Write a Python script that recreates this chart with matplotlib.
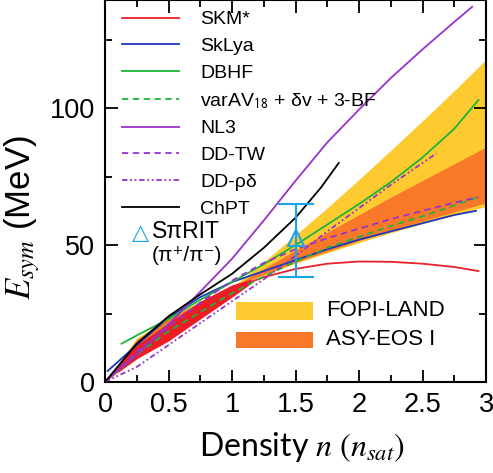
import numpy as np
import matplotlib
matplotlib.use('Agg')
import matplotlib.pyplot as plt
from matplotlib.ticker import MultipleLocator

plt.rcParams['font.family'] = ['Liberation Sans', 'DejaVu Sans']
plt.rcParams['mathtext.fontset'] = 'stix'

# model curves (density in n_sat, E_sym in MeV)
skm_x   = [0, 0.25, 0.5, 0.75, 1.0, 1.25, 1.5, 1.75, 2.0, 2.25, 2.5, 2.75, 2.94]
skm_y   = [0, 11.5, 21, 28.5, 34, 38.3, 41.3, 43.2, 44, 43.9, 43.2, 42, 40.5]
sklya_x = [0.02, 0.25, 0.5, 0.75, 1.0, 1.25, 1.5, 1.75, 2.0, 2.25, 2.5, 2.75, 2.92]
sklya_y = [4, 13.5, 23.5, 31, 36.5, 40.5, 44.5, 48.5, 52, 55, 58, 61, 62.5]
dbhf_x  = [0.13, 0.25, 0.5, 0.75, 1.0, 1.25, 1.5, 1.75, 2.0, 2.25, 2.5, 2.75, 2.94]
dbhf_y  = [14, 17, 23, 30, 36.5, 43, 50, 57.5, 65, 73, 82, 92.5, 103]
av18_x  = [0, 0.25, 0.5, 0.75, 1.0, 1.25, 1.5, 1.75, 2.0, 2.25, 2.5, 2.75, 2.94]
av18_y  = [0, 10, 18.5, 25.5, 32.5, 38.5, 44, 49, 53, 57, 60.5, 64.5, 67.5]
nl3_x   = [0, 0.25, 0.5, 0.75, 1.0, 1.25, 1.5, 1.75, 2.0, 2.25, 2.5, 2.75, 2.89]
nl3_y   = [0, 10, 21, 33, 45, 59, 73.5, 87.5, 99.5, 111, 121.5, 131.5, 137]
ddtw_x  = [0, 0.25, 0.5, 0.75, 1.0, 1.25, 1.5, 1.75, 2.0, 2.25, 2.5, 2.75, 2.94]
ddtw_y  = [0, 11, 20, 29, 37, 43.5, 48.5, 52.5, 56, 59.5, 62.5, 65.5, 67.5]
ddrd_x  = [0, 0.25, 0.5, 0.75, 1.0, 1.25, 1.5, 1.75, 2.0, 2.25, 2.5, 2.61]
ddrd_y  = [0, 5.5, 13.5, 21.5, 29.5, 37.5, 46, 55, 63.5, 72, 80, 83.5]
chpt_x  = [0, 0.25, 0.5, 0.75, 1.0, 1.25, 1.5, 1.7, 1.84]
chpt_y  = [0, 14, 24, 32, 39.5, 49, 60, 71, 80]

# constraint bands
band_x  = [0, 0.25, 0.5, 0.75, 1, 1.25, 1.5, 1.75, 2, 2.25, 2.5, 2.75, 3]
fopi_hi = [0, 8.6, 16.8, 25.4, 34.5, 43.9, 53.7, 63.6, 74.0, 84.6, 95.4, 106.4, 117.8]
fopi_lo = [0, 16.0, 23.4, 29.4, 34.5, 39.1, 43.3, 47.2, 50.9, 54.5, 57.8, 61.0, 64.1]
asy_hi  = [0, 11.2, 19.6, 27.2, 34.5, 41.4, 48.2, 54.7, 61.1, 67.5, 73.6, 79.7, 85.8]
asy_lo  = [0, 15.6, 23.1, 29.2, 34.5, 39.3, 43.7, 47.7, 51.6, 55.3, 58.8, 62.1, 65.4]
red_x   = [0.1, 0.25, 0.5, 0.75, 1.0, 1.15]
red_lo  = [3.5, 8.5, 15, 23, 31, 36]
red_hi  = [6.5, 13.5, 21.5, 29.5, 35.5, 37.5]

# S-pi-RIT point
spirit_x = [1.5]
spirit_y = [52.5]
spirit_lo = [14]
spirit_hi = [12.5]

xticks = [0, 0.5, 1, 1.5, 2, 2.5, 3]
xticklabels = ['0', '0.5', '1', '1.5', '2', '2.5', '3']
yticks = [0, 50, 100]

purple = '#9932CC'
cyan = '#1BA5E8'
yellow = '#FDCA30'
orange = '#F9782A'

fig = plt.figure(figsize=(4.93, 4.73), dpi=100)
ax = fig.add_axes([0.213, 0.1924, 0.773, 0.8076])

ax.fill_between(band_x, fopi_lo, fopi_hi, color=yellow, lw=0, zorder=1)
ax.fill_between(band_x, asy_lo, asy_hi, color=orange, lw=0, zorder=2)
ax.fill_between(red_x, red_lo, red_hi, color='#EE1C25', lw=0, zorder=2)

lw = 1.3
ax.plot(skm_x, skm_y, color='#E8202A', lw=lw, label='SKM*', zorder=3)
ax.plot(sklya_x, sklya_y, color='#1F36C0', lw=lw, label='SkLya', zorder=3)
ax.plot(dbhf_x, dbhf_y, color='#1DB539', lw=lw, label='DBHF', zorder=3)
ax.plot(av18_x, av18_y, color='#1DB539', lw=lw, ls=(0, (3.5, 2.5)),
        label=r'varAV$_{\mathsf{18}}$ + δv + 3-BF', zorder=3)
ax.plot(nl3_x, nl3_y, color=purple, lw=lw, label='NL3', zorder=3)
ax.plot(ddtw_x, ddtw_y, color=purple, lw=lw, ls=(0, (3.5, 2.5)), label='DD-TW', zorder=3)
ax.plot(ddrd_x, ddrd_y, color=purple, lw=lw, ls=(0, (3, 1.5, 1, 1.5, 1, 1.5)),
        label='DD-ρδ', zorder=3)
ax.plot(chpt_x, chpt_y, color='black', lw=lw, label='ChPT', zorder=3)

ax.errorbar(spirit_x, spirit_y, yerr=[spirit_lo, spirit_hi], fmt='^', ms=11,
            mfc='none', mec=cyan, mew=1.5, ecolor=cyan, elinewidth=1.5,
            capsize=13, capthick=1.5, zorder=4)

leg = ax.legend(loc='upper left', bbox_to_anchor=(0.045, 0.972), frameon=False,
                fontsize=14, handlelength=2.9, handletextpad=1.1,
                labelspacing=0.47, borderpad=0, borderaxespad=0)

ax.text(0.092, 0.39, '△', transform=ax.transAxes, color=cyan, fontsize=16,
        ha='center', va='center', family=['DejaVu Sans'])
ax.text(0.122, 0.395, 'SπRIT', transform=ax.transAxes, fontsize=16.5, va='center')
ax.text(0.122, 0.332, '(π⁺/π⁻)', transform=ax.transAxes, fontsize=15, va='center',
        family=['Liberation Sans', 'DejaVu Sans'])

ax.add_patch(plt.Rectangle((0.343, 0.162), 0.202, 0.047, transform=ax.transAxes,
                           color=yellow, lw=0, zorder=5))
ax.add_patch(plt.Rectangle((0.343, 0.089), 0.202, 0.043, transform=ax.transAxes,
                           color=orange, lw=0, zorder=5))
ax.text(0.581, 0.186, 'FOPI-LAND', transform=ax.transAxes, fontsize=16, va='center')
ax.text(0.581, 0.110, 'ASY-EOS I', transform=ax.transAxes, fontsize=16, va='center')

ax.set_xlim(0, 3)
ax.set_ylim(0, 139.5)
ax.set_xticks(xticks)
ax.set_xticklabels(xticklabels)
ax.set_yticks(yticks)
ax.xaxis.set_minor_locator(MultipleLocator(0.25))
ax.yaxis.set_minor_locator(MultipleLocator(25))
ax.tick_params(which='both', direction='in', top=True, right=True, labelsize=19.5,
               width=1.3, pad=7)
ax.tick_params(which='major', length=9)
ax.tick_params(which='minor', length=5)
for s in ax.spines.values():
    s.set_linewidth(1.5)

ax.set_xlabel(r'Density $n\ (n_{sat})$', fontsize=23, family=['Lato', 'DejaVu Sans'])
ax.set_ylabel(r'$E_{sym}$ (MeV)', fontsize=25)
ax.xaxis.set_label_coords(0.517, -0.125)
ax.yaxis.set_label_coords(-0.165, 0.43)

fig.savefig('out.png', dpi=100)
